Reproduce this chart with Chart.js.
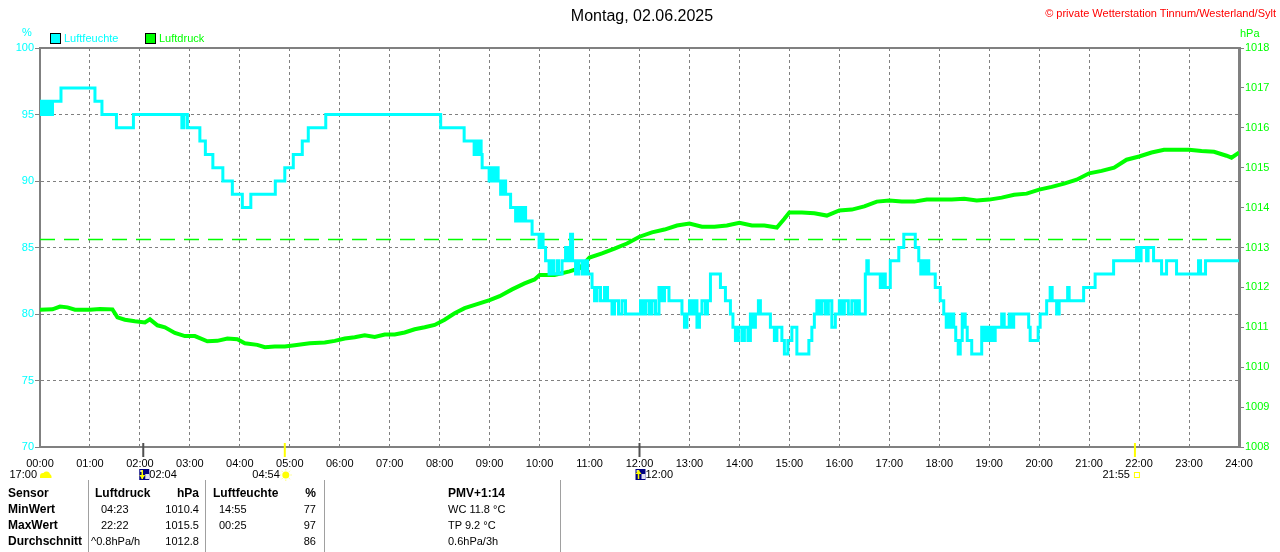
<!DOCTYPE html>
<html>
<head>
<meta charset="utf-8">
<script src="https://cdn.jsdelivr.net/npm/chart.js@4.4.1/dist/chart.umd.min.js"></script>
<style>
  html, body { margin: 0; padding: 0; background: #fff; }
  #wrap { position: relative; width: 1280px; height: 552px; overflow: hidden;
          font-family: "Liberation Sans", Arial, sans-serif; }
  #chart { position: absolute; left: 0; top: 0; }
  .t { position: absolute; white-space: nowrap; font-size: 11px; line-height: 14px; color: #000; }
  .b { font-weight: bold; font-size: 12px; }
  .vl { position: absolute; top: 480px; height: 72px; width: 1px; background: #a0a0a0; }
  .sq { position: absolute; width: 9px; height: 9px; border: 1px solid #000; }
</style>
</head>
<body>
<div id="wrap">
  <canvas id="chart" width="1280" height="552"></canvas>

  <!-- Kopf -->
  <div class="t" style="left:0;width:1284px;text-align:center;top:7px;font-size:16px;line-height:18px;">Montag, 02.06.2025</div>
  <div class="t" style="right:4px;top:6px;color:#ff0000;">© private Wetterstation Tinnum/Westerland/Sylt</div>

  <!-- Legende -->
  <div class="t" style="left:22px;top:25px;color:#00ffff;">%</div>
  <div class="t" style="left:1240px;top:26px;color:#00ff00;">hPa</div>
  <div class="sq" style="left:50px;top:33px;background:#00ffff;"></div>
  <div class="t" style="left:64px;top:31px;color:#00ffff;">Luftfeuchte</div>
  <div class="sq" style="left:145px;top:33px;background:#00ff00;"></div>
  <div class="t" style="left:159px;top:31px;color:#00ff00;">Luftdruck</div>

  <!-- Tabelle -->
  <div class="vl" style="left:88px;"></div>
  <div class="vl" style="left:205px;"></div>
  <div class="vl" style="left:324px;"></div>
  <div class="vl" style="left:560px;"></div>

  <div class="t b" style="left:8px;top:486px;">Sensor</div>
  <div class="t b" style="left:8px;top:502px;">MinWert</div>
  <div class="t b" style="left:8px;top:518px;">MaxWert</div>
  <div class="t b" style="left:8px;top:534px;">Durchschnitt</div>

  <div class="t b" style="left:95px;top:486px;">Luftdruck</div>
  <div class="t b" style="right:1081px;top:486px;">hPa</div>
  <div class="t" style="left:101px;top:502px;">04:23</div>
  <div class="t" style="right:1081px;top:502px;">1010.4</div>
  <div class="t" style="left:101px;top:518px;">22:22</div>
  <div class="t" style="right:1081px;top:518px;">1015.5</div>
  <div class="t" style="left:91px;top:534px;">^0.8hPa/h</div>
  <div class="t" style="right:1081px;top:534px;">1012.8</div>

  <div class="t b" style="left:213px;top:486px;">Luftfeuchte</div>
  <div class="t b" style="right:964px;top:486px;">%</div>
  <div class="t" style="left:219px;top:502px;">14:55</div>
  <div class="t" style="right:964px;top:502px;">77</div>
  <div class="t" style="left:219px;top:518px;">00:25</div>
  <div class="t" style="right:964px;top:518px;">97</div>
  <div class="t" style="right:964px;top:534px;">86</div>

  <div class="t b" style="left:448px;top:486px;">PMV+1:14</div>
  <div class="t" style="left:448px;top:502px;">WC 11.8 °C</div>
  <div class="t" style="left:448px;top:518px;">TP 9.2 °C</div>
  <div class="t" style="left:448px;top:534px;">0.6hPa/3h</div>
</div>

<script>
// Zeitachse (Stunden)
const hourLabels = ['00:00','01:00','02:00','03:00','04:00','05:00','06:00','07:00','08:00',
  '09:00','10:00','11:00','12:00','13:00','14:00','15:00','16:00','17:00','18:00','19:00',
  '20:00','21:00','22:00','23:00','24:00'];
const hourTicks = [0,1,2,3,4,5,6,7,8,9,10,11,12,13,14,15,16,17,18,19,20,21,22,23,24];
const humTicks = [70, 75, 80, 85, 90, 95, 100];
const presTicks = [1008, 1009, 1010, 1011, 1012, 1013, 1014, 1015, 1016, 1017, 1018];

// Luftfeuchte (%), Stufenwerte: Zeitpunkt der Änderung -> neuer Wert
const humTimes = [0,0.03,0.07,0.10,0.14,0.18,0.21,0.25,0.42,1.10,1.24,1.53,1.87,2.84,2.88,2.95,
  3.20,3.31,3.46,3.66,3.85,4.05,4.22,4.71,4.90,5.07,5.25,5.37,5.72,8.02,8.49,8.69,8.73,8.77,
  8.80,8.83,8.85,8.99,9.03,9.08,9.12,9.17,9.22,9.28,9.32,9.42,9.52,9.56,9.62,9.66,9.72,9.85,
  9.99,10.03,10.07,10.12,10.19,10.25,10.28,10.35,10.38,10.45,10.52,10.56,10.62,10.66,10.72,
  10.78,10.85,10.90,10.96,11.05,11.10,11.15,11.22,11.30,11.36,11.45,11.50,11.58,11.65,11.72,
  12.02,12.07,12.12,12.19,12.25,12.32,12.39,12.45,12.50,12.59,12.85,12.90,12.95,13.00,13.05,
  13.10,13.15,13.20,13.25,13.32,13.36,13.42,13.62,13.72,13.82,13.87,13.92,13.98,14.05,14.10,
  14.17,14.22,14.27,14.32,14.38,14.42,14.62,14.70,14.75,14.85,14.90,14.97,15.05,15.15,15.39,
  15.45,15.50,15.55,15.60,15.65,15.72,15.78,15.85,15.92,16.00,16.05,16.10,16.18,16.25,16.32,
  16.36,16.40,16.52,16.55,16.58,16.82,16.88,16.92,17.02,17.19,17.29,17.52,17.59,17.63,17.68,
  17.72,17.77,17.79,17.92,18.02,18.09,18.14,18.18,18.22,18.25,18.29,18.33,18.38,18.42,18.46,
  18.52,18.56,18.65,18.85,18.90,18.94,19.00,19.04,19.08,19.12,19.25,19.30,19.40,19.45,19.49,
  19.79,19.82,19.98,20.02,20.15,20.22,20.26,20.35,20.40,20.57,20.60,20.89,21.12,21.49,21.95,
  22.00,22.04,22.15,22.18,22.29,22.45,22.55,22.75,23.19,23.23,23.33,24.00];
const humValues = [95,96,95,96,95,96,95,96,97,96,95,94,95,94,95,94,
  93,92,91,90,89,88,89,90,91,92,93,94,95,94,93,92,93,92,
  93,92,91,90,91,90,91,90,89,90,89,88,87,88,87,88,87,86,
  85,86,85,84,83,84,83,84,83,84,85,84,86,84,83,
  84,83,84,83,82,81,82,81,82,81,80,81,80,81,80,
  81,80,81,80,81,80,82,81,82,81,80,79,80,81,80,
  81,79,80,81,80,81,83,82,81,80,79,78,79,78,79,
  78,80,79,80,81,80,79,78,79,78,77,78,79,77,78,
  79,80,81,80,81,80,81,79,80,81,80,81,80,81,80,
  81,80,83,84,83,82,83,82,84,85,86,85,84,83,84,
  83,84,83,82,81,80,79,80,79,80,79,78,77,78,80,
  79,78,77,79,78,79,78,79,78,79,80,79,80,79,80,
  79,78,79,80,81,82,81,80,81,82,81,82,83,84,85,
  84,85,84,85,84,83,84,83,84,83,84,84];

// Luftdruck (hPa)
const presTimes = [0,0.25,0.4,0.55,0.7,1.0,1.2,1.45,1.55,1.7,1.9,2.1,2.2,2.35,2.5,2.7,2.9,3.1,
  3.35,3.55,3.75,3.95,4.1,4.35,4.5,4.7,4.9,5.1,5.4,5.7,5.9,6.1,6.3,6.5,6.7,6.9,7.1,7.3,7.5,
  7.7,7.9,8.1,8.3,8.5,8.75,9.0,9.2,9.45,9.7,9.9,10.0,10.3,10.6,10.8,11.0,11.25,11.5,11.75,
  12.0,12.25,12.5,12.75,13.0,13.25,13.5,13.75,14.0,14.25,14.5,14.75,14.9,15.0,15.25,15.5,
  15.75,16.0,16.25,16.5,16.75,17.0,17.25,17.5,17.75,18.0,18.25,18.5,18.75,19.0,19.25,19.5,
  19.75,20.0,20.25,20.5,20.75,21.0,21.25,21.5,21.75,22.0,22.25,22.5,22.75,23.0,23.25,23.5,
  23.75,23.85,24.0];
const presValues = [1011.44,1011.45,1011.52,1011.50,1011.44,1011.44,1011.46,1011.45,1011.25,
  1011.19,1011.15,1011.12,1011.20,1011.05,1011.00,1010.86,1010.78,1010.78,1010.65,1010.66,
  1010.72,1010.70,1010.60,1010.56,1010.50,1010.52,1010.52,1010.55,1010.60,1010.62,1010.66,
  1010.72,1010.75,1010.80,1010.76,1010.82,1010.82,1010.87,1010.95,1011.00,1011.06,1011.19,
  1011.35,1011.48,1011.58,1011.68,1011.78,1011.95,1012.10,1012.20,1012.31,1012.31,1012.40,
  1012.48,1012.75,1012.85,1012.97,1013.10,1013.27,1013.38,1013.45,1013.55,1013.60,1013.52,
  1013.52,1013.55,1013.62,1013.55,1013.55,1013.50,1013.72,1013.88,1013.88,1013.86,1013.80,
  1013.93,1013.95,1014.03,1014.15,1014.18,1014.15,1014.15,1014.20,1014.20,1014.20,1014.22,
  1014.18,1014.20,1014.25,1014.32,1014.35,1014.45,1014.52,1014.60,1014.70,1014.86,1014.92,
  1015.00,1015.20,1015.28,1015.38,1015.45,1015.45,1015.45,1015.42,1015.40,1015.30,1015.25,
  1015.38];
const refPressure = 1013.2;

// Mond/Sonne-Ereignisse
const eventTimes = [0, 2.067, 4.9, 12.0, 21.917];
const eventLabels = ['17:00', '02:04', '04:54', '12:00', '21:55'];
const eventKinds = ['cloud', 'moonset', 'sunrise', 'moonrise', 'sunset'];

const FONT = '"Liberation Sans", Arial, sans-serif';
Chart.defaults.font.family = FONT;
Chart.defaults.font.size = 11;

function drawIcon(ctx, kind, cx, cy) {
  if (kind === 'cloud') {
    ctx.fillStyle = '#ffff00';
    ctx.beginPath();
    ctx.arc(cx - 2, cy + 1, 3, Math.PI, 0);
    ctx.arc(cx + 1.5, cy, 3.5, Math.PI, 0);
    ctx.arc(cx + 4, cy + 1.5, 2.5, Math.PI * 1.4, 0);
    ctx.lineTo(cx + 6.5, cy + 3);
    ctx.lineTo(cx - 5, cy + 3);
    ctx.closePath();
    ctx.fill();
  } else if (kind === 'moonset' || kind === 'moonrise') {
    ctx.fillStyle = '#000080';
    ctx.fillRect(cx - 5, cy - 6, 10, 11);
    ctx.fillStyle = '#e0e0f0';
    ctx.fillRect(cx + 1, cy - 1, 4, 5);
    ctx.fillRect(cx - 4, cy - 5, 2, 2);
    ctx.strokeStyle = '#ffff00';
    ctx.lineWidth = 1.5;
    ctx.beginPath();
    const up = kind === 'moonrise';
    ctx.moveTo(cx - 2, cy - 5); ctx.lineTo(cx - 2, cy + 4);
    ctx.stroke();
    ctx.fillStyle = '#ffff00';
    ctx.beginPath();
    if (up) { ctx.moveTo(cx - 5, cy - 1); ctx.lineTo(cx - 2, cy - 5); ctx.lineTo(cx + 1, cy - 1); }
    else { ctx.moveTo(cx - 5, cy); ctx.lineTo(cx - 2, cy + 4); ctx.lineTo(cx + 1, cy); }
    ctx.fill();
  } else if (kind === 'sunrise') {
    ctx.fillStyle = '#ffff00';
    ctx.strokeStyle = '#ffff80';
    ctx.beginPath(); ctx.arc(cx, cy, 3.5, 0, Math.PI * 2); ctx.fill();
    ctx.lineWidth = 1;
    for (let k = 0; k < 8; k++) {
      const an = k * Math.PI / 4;
      ctx.beginPath();
      ctx.moveTo(cx + Math.cos(an) * 4.5, cy + Math.sin(an) * 4.5);
      ctx.lineTo(cx + Math.cos(an) * 6, cy + Math.sin(an) * 6);
      ctx.stroke();
    }
  } else if (kind === 'sunset') {
    ctx.strokeStyle = '#ffff00';
    ctx.lineWidth = 1;
    ctx.strokeRect(cx - 1.5, cy - 2.5, 5, 5);
  }
}

const decor = {
  id: 'decor',
  afterDraw(chart) {
    const { ctx, chartArea: a, scales: { x } } = chart;
    ctx.save();
    // oberer Rahmen
    ctx.strokeStyle = '#808080';
    ctx.lineWidth = 2;
    ctx.beginPath();
    ctx.moveTo(a.left - 1, a.top);
    ctx.lineTo(a.right + 1, a.top);
    ctx.stroke();

    ctx.font = '11px ' + FONT;
    ctx.textBaseline = 'middle';
    const rowY = 475;
    eventTimes.forEach((t, i) => {
      const px = x.getPixelForValue(t);
      const kind = eventKinds[i];
      if (kind !== 'cloud') {
        ctx.strokeStyle = kind.startsWith('sun') ? '#ffff00' : '#505050';
        ctx.lineWidth = 2;
        ctx.beginPath();
        ctx.moveTo(px, a.bottom - 4);
        ctx.lineTo(px, a.bottom + 10);
        ctx.stroke();
      }
      const cx = kind === 'cloud' ? px + 5 : px + 1;
      drawIcon(ctx, kind, cx, rowY);
      ctx.fillStyle = '#000';
      if (kind === 'moonset' || kind === 'moonrise') {
        ctx.textAlign = 'left';
        ctx.fillText(eventLabels[i], px + 6, rowY);
      } else {
        ctx.textAlign = 'right';
        ctx.fillText(eventLabels[i], px - (kind === 'cloud' ? 3 : 5), rowY);
      }
    });
    ctx.restore();
  }
};

new Chart(document.getElementById('chart'), {
  type: 'line',
  data: {
    datasets: [
      {
        label: 'Luftfeuchte',
        data: humTimes.map((t, i) => ({ x: t, y: humValues[i] })),
        yAxisID: 'yHum',
        borderColor: '#00ffff',
        borderWidth: 3,
        stepped: true,
        pointRadius: 0
      },
      {
        label: 'Luftdruck',
        data: presTimes.map((t, i) => ({ x: t, y: presValues[i] })),
        yAxisID: 'yPres',
        borderColor: '#00ff00',
        borderWidth: 4,
        pointRadius: 0,
        tension: 0
      },
      {
        label: 'Normaldruck',
        data: [{ x: 0, y: refPressure }, { x: 24, y: refPressure }],
        yAxisID: 'yPres',
        borderColor: '#00ff00',
        borderWidth: 1.5,
        borderDash: [15, 9],
        pointRadius: 0
      }
    ]
  },
  options: {
    responsive: false,
    animation: false,
    devicePixelRatio: 1,
    layout: { padding: { top: 48, left: 0, right: 0, bottom: 0 } },
    plugins: { legend: { display: false }, tooltip: { enabled: false } },
    scales: {
      x: {
        type: 'linear', min: 0, max: 24,
        afterBuildTicks: s => { s.ticks = hourTicks.map(v => ({ value: v })); },
        afterFit: s => { s.height = 105; },
        ticks: { color: '#000', padding: 10, maxRotation: 0, autoSkip: false,
                 callback: (v, i) => hourLabels[i] },
        grid: { color: '#808080', lineWidth: 1, drawTicks: false },
        border: { color: '#808080', width: 2, dash: [3, 3] }
      },
      yHum: {
        position: 'left', min: 70, max: 100,
        afterBuildTicks: s => { s.ticks = humTicks.map(v => ({ value: v })); },
        afterFit: s => { s.width = 40; },
        ticks: { color: '#00ffff', padding: 1, callback: v => String(v) },
        grid: { color: '#808080', lineWidth: 1, tickLength: 5, tickColor: '#808080', tickBorderDash: [] },
        border: { color: '#808080', width: 2, dash: [3, 3] }
      },
      yPres: {
        position: 'right', min: 1008, max: 1018,
        afterBuildTicks: s => { s.ticks = presTicks.map(v => ({ value: v })); },
        afterFit: s => { s.width = 41; },
        ticks: { color: '#00ff00', padding: 1, callback: v => String(v) },
        grid: { drawOnChartArea: false, tickLength: 5, tickColor: '#808080', tickBorderDash: [] },
        border: { color: '#808080', width: 3 }
      }
    }
  },
  plugins: [decor]
});
</script>
</body>
</html>
